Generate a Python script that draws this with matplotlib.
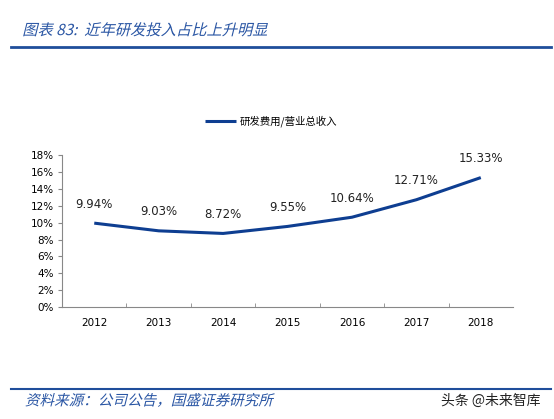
import matplotlib.pyplot as plt
from matplotlib import patheffects
from matplotlib.transforms import Affine2D

plt.rcParams['font.family'] = ['Noto Sans CJK SC', 'DejaVu Sans']

years = ['2012', '2013', '2014', '2015', '2016', '2017', '2018']
ratio = [9.94, 9.03, 8.72, 9.55, 10.64, 12.71, 15.33]
yticks = [0, 2, 4, 6, 8, 10, 12, 14, 16, 18]

blue = '#0E3E91'


class Slant(patheffects.AbstractPathEffect):
    # fake italic for the CJK font, which has no italic face
    def draw_path(self, renderer, gc, tpath, affine, rgbFace=None):
        m = affine.get_matrix()
        tx, ty = m[0, 2], m[1, 2]
        sk = Affine2D().translate(-tx, -ty).skew_deg(14, 0).translate(tx, ty)
        renderer.draw_path(gc, tpath, affine + sk, rgbFace)


fig = plt.figure(figsize=(5.54, 4.19), dpi=100)
ax = fig.add_axes([0.112, 0.267, 0.814, 0.363])

x = range(len(years))
ax.plot(x, ratio, color=blue, lw=2.2, solid_capstyle='butt', label='研发费用/营业总收入')
for i, v in enumerate(ratio):
    ax.annotate(f'{v:.2f}%', (i, v), xytext=(0, 9), textcoords='offset points',
                ha='center', va='bottom', fontsize=8.5, family='DejaVu Sans', color='#222222')

ax.set_xlim(-0.5, len(years) - 0.5)
ax.set_ylim(0, 18)
ax.set_yticks(yticks)
ax.set_yticklabels([f'{t}%' for t in yticks], family='DejaVu Sans', fontsize=7.5)
ax.set_xticks(x)
ax.set_xticklabels(years, family='DejaVu Sans', fontsize=7.5)
ax.set_xticks([i + 0.5 for i in range(len(years) - 1)], minor=True)
ax.tick_params(axis='x', which='major', length=0, pad=8)
ax.tick_params(axis='x', which='minor', length=3, direction='in', color='#888888')
ax.tick_params(axis='y', length=3, direction='out', color='#888888', pad=3)
for s in ['top', 'right']:
    ax.spines[s].set_visible(False)
for s in ['left', 'bottom']:
    ax.spines[s].set_color('#888888')
    ax.spines[s].set_linewidth(0.8)

fig.legend(loc='center', bbox_to_anchor=(0.489, 0.711), frameon=False,
           fontsize=7.5, handlelength=3, handletextpad=0.3)

# title and rules
fig.text(0.04, 0.927, '图表 83:  近年研发投入占比上升明显', fontsize=11, color='#2A56A4',
         va='center', path_effects=[Slant()])
fig.add_artist(plt.Line2D([0.02, 0.995], [0.888, 0.888], color='#1F4E9B', lw=2))
fig.add_artist(plt.Line2D([0.02, 0.995], [0.071, 0.071], color='#1F4E9B', lw=1.5))
fig.text(0.045, 0.043, '资料来源：公司公告，国盛证券研究所', fontsize=10.5, color='#2A56A4',
         va='center', path_effects=[Slant()])
fig.text(0.975, 0.043, '头条 @未来智库', fontsize=10, color='#222222', ha='right', va='center')

fig.savefig('out.png', dpi=100)
